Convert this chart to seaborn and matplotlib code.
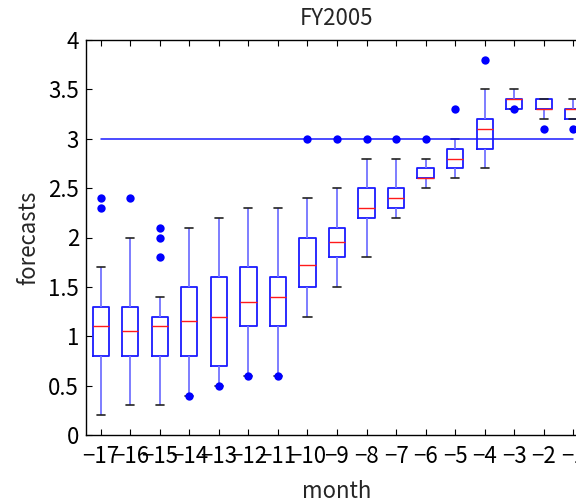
import matplotlib
matplotlib.use("Agg")
import matplotlib.pyplot as plt
import numpy as np
import pandas as pd
import seaborn as sns

# ---- data ----
months = ["−17", "−16", "−15", "−14", "−13", "−12", "−11", "−10", "−9",
          "−8", "−7", "−6", "−5", "−4", "−3", "−2", "−1"]
whisker_low = [0.2, 0.3, 0.3, 0.4, 0.5, 0.6, 0.6, 1.2, 1.5, 1.8, 2.2, 2.5, 2.6, 2.7, 3.3, 3.2, 3.2]
q1 = [0.8, 0.8, 0.8, 0.8, 0.7, 1.1, 1.1, 1.5, 1.8, 2.2, 2.3, 2.6, 2.7, 2.9, 3.3, 3.3, 3.2]
median = [1.1, 1.05, 1.1, 1.15, 1.2, 1.35, 1.4, 1.72, 1.95, 2.3, 2.4, 2.6, 2.8, 3.1, 3.4, 3.3, 3.3]
q3 = [1.3, 1.3, 1.2, 1.5, 1.6, 1.7, 1.6, 2.0, 2.1, 2.5, 2.5, 2.7, 2.9, 3.2, 3.4, 3.4, 3.3]
whisker_high = [1.7, 2.0, 1.4, 2.1, 2.2, 2.3, 2.3, 2.4, 2.5, 2.8, 2.8, 2.8, 3.0, 3.5, 3.5, 3.4, 3.4]

outlier_month = ["−17", "−17", "−16", "−15", "−15", "−15", "−14", "−13", "−12", "−11",
                 "−10", "−9", "−8", "−7", "−6", "−5", "−4", "−3", "−2", "−1"]
outlier_value = [2.4, 2.3, 2.4, 2.1, 2.0, 1.8, 0.4, 0.5, 0.6, 0.6,
                 3.0, 3.0, 3.0, 3.0, 3.0, 3.3, 3.8, 3.3, 3.1, 3.1]

target_value = 3.0
target_span = ("−17", "−1")

title = "FY2005"
xlabel = "month"
ylabel = "forecasts"
yticks = [0, 0.5, 1, 1.5, 2, 2.5, 3, 3.5, 4]
ytick_labels = ["0", "0.5", "1", "1.5", "2", "2.5", "3", "3.5", "4"]

# ---- build tidy frames ----
rows = []
for m, a, b, c, d, e in zip(months, whisker_low, q1, median, q3, whisker_high):
    for v in (a, b, c, d, e):
        rows.append({"month": m, "forecast": v})
box_df = pd.DataFrame(rows)
out_df = pd.DataFrame({"month": outlier_month, "forecast": outlier_value})

sns.set_style("ticks")
plt.rcParams["font.family"] = ["Noto Sans CJK JP", "DejaVu Sans"]

W, H = 576, 503
fig = plt.figure(figsize=(W / 100, H / 100), dpi=100)
left, right, top, bottom = 86, 588, 40, 435
ax = fig.add_axes([left / W, 1 - bottom / H, (right - left) / W, (bottom - top) / H])

sns.boxplot(data=box_df, x="month", y="forecast", order=months, whis=(0, 100),
            fill=False, width=0.55, showfliers=False, linewidth=1.3, ax=ax,
            boxprops=dict(color="#1a1aff", linewidth=1.3),
            whiskerprops=dict(color="#7373ff", linewidth=1.3),
            capprops=dict(color="#222222", linewidth=1.2),
            medianprops=dict(color="#ff1a1a", linewidth=1.0))

i0, i1 = months.index(target_span[0]), months.index(target_span[1])
ax.plot([i0, i1], [target_value, target_value], color="#1a1aff", linewidth=1.1, zorder=3)

sns.stripplot(data=out_df, x="month", y="forecast", order=months, jitter=False,
              color="#0000ff", size=6.0, linewidth=0, ax=ax, zorder=4)

ax.set_xlim(-0.5, len(months) - 0.5)
ax.set_ylim(0, 4)
ax.set_yticks(yticks)
ax.set_yticklabels(ytick_labels)
ax.set_xticks(range(len(months)))
ax.set_xticklabels(months)

for s in ax.spines.values():
    s.set_visible(True)
    s.set_color("black")
    s.set_linewidth(1.0)

ax.tick_params(axis="both", direction="in", length=4, width=0.8, labelsize=16,
               top=True, right=True, colors="black")
ax.tick_params(axis="x", pad=7)
ax.tick_params(axis="y", pad=5)

ax.set_title(title, fontsize=16, pad=11)
ax.set_xlabel(xlabel, fontsize=16, labelpad=9)
ax.set_ylabel(ylabel, fontsize=16, labelpad=6)

fig.savefig("out.png", dpi=100)
